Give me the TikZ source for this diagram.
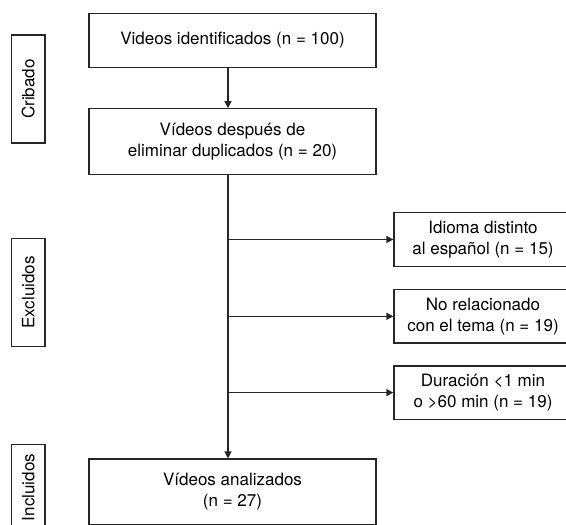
\documentclass[tikz,border=0pt]{standalone}
\usepackage{fontspec}
\setmainfont{TeX Gyre Heros}
\usepackage{tikz}
\usetikzlibrary{arrows.meta, positioning, calc}
\tikzstyle{block} = [rectangle, minimum width=287pt, minimum height=66pt, text centered, align=center, draw=black!85, line width=1.3pt, inner sep=0pt]
\tikzstyle{sidebox} = [rectangle, minimum width=178pt, minimum height=53.5pt, text centered, align=center, draw=black!85, line width=1.3pt, inner sep=0pt]
\tikzstyle{stage} = [rectangle, rotate=90, minimum width=108pt, minimum height=33.3pt, draw=black!85, line width=1.3pt, inner sep=0pt]
\tikzstyle{arrow} = [line width=1.3pt, black!85, ->, >={Triangle[length=7pt, width=7pt]}]

\begin{document}
\begin{tikzpicture}[x=1pt, y=-1pt, node distance=40pt, every node/.style={font=\fontsize{17}{21}\selectfont}]
  \useasboundingbox (0,0) rectangle (566,525);

  % main column
  \node[block, minimum height=54pt] (identificados) at (232.5,40.5) {Videos identificados (n = 100)};
  \node[block, below=40pt of identificados] (duplicados) {Vídeos después de\\eliminar duplicados (n = 20)};
  \node[block, below=283pt of duplicados] (analizados) {Vídeos analizados\\(n = 27)};
  \coordinate (trunk) at ($(duplicados.south)+(-4.5,0)$);

  % exclusions
  \node[sidebox] (idioma) at (483,239.5) {Idioma distinto\\al español (n = 15)};
  \node[sidebox, below=22pt of idioma] (tema) {No relacionado\\con el tema (n = 19)};
  \node[sidebox, below=21.5pt of tema] (duracion) {Duración \textless1 min\\o \textgreater60 min (n = 19)};

  % stage labels
  \node[stage] (cribado) at (28.3,89) {Cribado};
  \node[stage] (excluidos) at (28.3,292.5) {Excluidos};
  \node[stage, minimum width=86pt] (incluidos) at (28.3,487.5) {Incluidos};

  \draw[arrow] (identificados.south -| trunk) -- (duplicados.north -| trunk);
  \draw[arrow] (trunk) -- (trunk |- analizados.north);
  \draw[arrow] (trunk |- idioma) -- (idioma);
  \draw[arrow] (trunk |- tema) -- (tema);
  \draw[arrow] (trunk |- duracion) -- (duracion);
\end{tikzpicture}
\end{document}
